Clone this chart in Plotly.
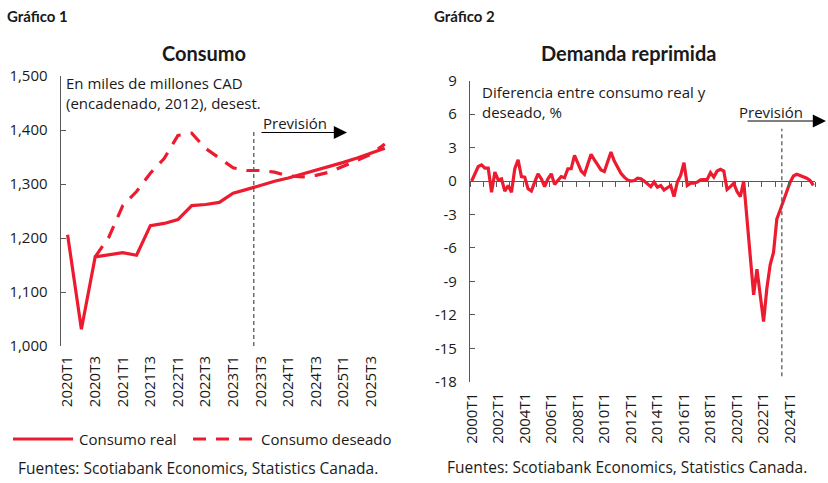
import numpy as np
import plotly.graph_objects as go

# Gráfico 1: consumo, miles de millones CAD (encadenado 2012), desest.
quarters_1 = [f"{y}T{q}" for y in range(2020, 2026) for q in range(1, 5)]
consumo_real = [1206, 1031, 1165, 1169, 1173, 1168, 1223, 1227, 1234, 1260, 1262, 1266,
                1283, 1290, 1298, 1305, 1311, 1318, 1325, 1332, 1340, 1348, 1357, 1366]
consumo_deseado = [None, None, 1165, 1202, 1260, 1286, 1320, 1347, 1390, 1394, 1366, 1348,
                   1330, 1325, 1325, 1322, 1315, 1313, 1316, 1322, 1333, 1343, 1355, 1374]
labels_1 = quarters_1[::2]

# Gráfico 2: diferencia entre consumo real y deseado, %
quarters_2 = [f"{y}T{q}" for y in range(2000, 2026) for q in range(1, 5)]
demanda_reprimida = [
    0.0, 0.7, 1.3, 1.45, 1.15, 1.15, -1.0, 0.8,       # 2000-2001
    0.1, 0.2, -0.9, -0.4, -1.0, 1.1, 1.9, 0.4,        # 2002-2003
    0.35, -0.7, -0.9, -0.1, 0.65, 0.2, -0.5, 0.2,     # 2004-2005
    0.65, -0.3, 0.1, 0.4, 0.3, 1.1, 1.1, 2.3,         # 2006-2007
    1.6, 0.9, 0.6, 1.5, 2.4, 1.9, 1.4, 1.0,           # 2008-2009
    0.85, 1.7, 2.6, 1.8, 1.2, 0.7, 0.35, 0.1,         # 2010-2011
    0.0, 0.05, 0.25, 0.2, 0.0, -0.3, -0.5, -0.1,      # 2012-2013
    -0.55, -0.4, -0.8, -0.6, -0.4, -1.4, -0.1, 0.5,   # 2014-2015
    1.65, -0.4, -0.2, -0.2, -0.1, 0.1, 0.15, 0.15,    # 2016-2017
    0.75, 0.35, 0.9, 1.05, 0.9, -0.75, -0.5, -0.2,    # 2018-2019
    -0.95, -1.4, 0.0, -3.5, -6.9, -10.2, -7.9, -10.3, # 2020-2021
    -12.6, -9.6, -7.5, -6.4, -3.4, -2.6, -1.8, -0.9,  # 2022-2023
    -0.1, 0.45, 0.6, 0.5, 0.4, 0.25, 0.05, -0.4,      # 2024-2025
]
labels_2 = quarters_2[::8]
forecast_start = "2023T3"

W, H = 828, 483
RED = "#ED1B2F"
AXIS = "#595959"
TXT = "#1a1a1a"
FONT = "Open Sans"
BOLD = "Lato"
DASH = "13px,10px"


def px(x):
    return x / W


def py(y):
    return 1 - y / H


dom1_x = [px(60.7), px(391.7)]
dom1_y = [py(346), py(76)]
dom2_x = [px(470), px(815)]
dom2_y = [py(381.7), py(80.7)]
y1_range = [1000, 1500]
y2_range = [-18, 9]

fig = go.Figure()

fig.add_trace(go.Scatter(
    x=quarters_1, y=consumo_real, mode="lines", name="Consumo real",
    line=dict(color=RED, width=3.2), xaxis="x", yaxis="y",
))
fig.add_trace(go.Scatter(
    x=quarters_1, y=consumo_deseado, mode="lines", name="Consumo deseado",
    line=dict(color=RED, width=3.2, dash=DASH), xaxis="x", yaxis="y",
))
fig.add_trace(go.Scatter(
    x=quarters_2, y=demanda_reprimida, mode="lines", name="Demanda reprimida",
    line=dict(color=RED, width=3.2), xaxis="x2", yaxis="y2",
))
# empty helper trace: makes plotly build the subplot whose bottom edge is the zero line
fig.add_trace(go.Scatter(x=[None], y=[None], xaxis="x4", yaxis="y3", hoverinfo="skip"))

n1, n2 = len(quarters_1), len(quarters_2)
# position of the zero line of chart 2 in paper coords
zero_pos = dom2_y[0] + (0 - y2_range[0]) / (y2_range[1] - y2_range[0]) * (dom2_y[1] - dom2_y[0])

tick_font = dict(family=FONT, size=15, color=TXT)
common = dict(showgrid=False, zeroline=False, automargin=False)

fig.update_layout(
    width=W, height=H,
    margin=dict(l=0, r=0, t=0, b=0, autoexpand=False),
    paper_bgcolor="white", plot_bgcolor="rgba(0,0,0,0)",
    font=dict(family=FONT, size=14, color=TXT),
    showlegend=False,
    xaxis=dict(
        domain=dom1_x, anchor="y", type="category", range=[-0.5, n1 - 0.5],
        tickvals=labels_1, ticktext=labels_1, tickangle=-90, ticks="",
        showline=False, tickfont=tick_font, ticklabelstandoff=6, **common,
    ),
    yaxis=dict(
        domain=dom1_y, anchor="x", range=y1_range, dtick=100, tickformat=",",
        ticks="inside", ticklen=5, tickcolor=AXIS, showline=True, linecolor=AXIS,
        linewidth=1.2, tickfont=tick_font, ticklabelstandoff=9, **common,
    ),
    xaxis3=dict(
        domain=dom1_x, anchor="y", overlaying="x", range=[-0.5, n1 - 0.5],
        tickvals=np.arange(-0.5, n1, 1), ticks="outside", ticklen=5, tickcolor=AXIS,
        showline=True, linecolor=AXIS, linewidth=1.2, showticklabels=False, **common,
    ),
    xaxis2=dict(
        domain=dom2_x, anchor="y2", type="category", range=[-0.5, n2 - 0.5],
        tickvals=labels_2, ticktext=labels_2, tickangle=-90, ticks="",
        showline=False, tickfont=tick_font, ticklabelstandoff=7, **common,
    ),
    yaxis2=dict(
        domain=dom2_y, anchor="x2", range=y2_range,
        tickvals=list(range(-18, 10, 3)), ticktext=[str(v) for v in range(-18, 10, 3)],
        ticks="inside", ticklen=5, tickcolor=AXIS, showline=True, linecolor=AXIS,
        linewidth=1.2, tickfont=tick_font, ticklabelstandoff=9,
        showgrid=False, automargin=False,
        zeroline=True, zerolinecolor=AXIS, zerolinewidth=1.2,
    ),
    xaxis4=dict(
        domain=dom2_x, anchor="y3", range=[-0.5, n2 - 0.5],
        tickvals=np.arange(-0.5, n2, 4), ticks="outside", ticklen=5, tickcolor=AXIS,
        showline=True, linecolor=AXIS, linewidth=1.2, showticklabels=False, **common,
    ),
    yaxis3=dict(domain=[zero_pos, dom2_y[1]], anchor="x4", range=[0, 1], visible=False),
)

fc1 = quarters_1.index(forecast_start) - 0.5
fc2 = quarters_2.index(forecast_start) - 0.5
fig.add_shape(type="line", xref="x", yref="y", x0=fc1, x1=fc1, y0=1000, y1=1400,
              line=dict(color=AXIS, width=1.3, dash="4px,3px"))
fig.add_shape(type="line", xref="x2", yref="y2", x0=fc2, x1=fc2, y0=-17.5, y1=4.7,
              line=dict(color=AXIS, width=1.3, dash="4px,3px"))

# legend drawn by hand so the line keys are as long as in the original
legend_y = py(439)
for (x0, x1, dash) in [(13, 73, None), (193, 256, DASH)]:
    fig.add_shape(type="line", xref="paper", yref="paper", x0=px(x0), x1=px(x1),
                  y0=legend_y, y1=legend_y, line=dict(color=RED, width=3.2, dash=dash))

annotations = [
    dict(text="<b>Gráfico 1</b>", x=px(5), y=py(16), font=dict(family=BOLD, size=15)),
    dict(text="<b>Gráfico 2</b>", x=px(432), y=py(16), font=dict(family=BOLD, size=15)),
    dict(text="<b>Consumo</b>", x=px(204), y=py(53), xanchor="center",
         font=dict(family=BOLD, size=20)),
    dict(text="<b>Demanda reprimida</b>", x=px(628), y=py(53), xanchor="center",
         font=dict(family=BOLD, size=20)),
    dict(text="En miles de millones CAD<br>(encadenado, 2012), desest.",
         x=px(64), y=py(93), font=dict(size=15)),
    dict(text="Diferencia entre consumo real y<br>deseado, %",
         x=px(480), y=py(102), font=dict(size=15)),
    dict(text="Previsión", x=px(261), y=py(123), font=dict(size=15)),
    dict(text="Previsión", x=px(737), y=py(112), font=dict(size=15)),
    dict(text=fig.data[0].name, x=px(77), y=legend_y, font=dict(size=15)),
    dict(text=fig.data[1].name, x=px(259), y=legend_y, font=dict(size=15)),
    dict(text="Fuentes: Scotiabank Economics, Statistics Canada.", x=px(16), y=py(468),
         font=dict(size=15.5)),
    dict(text="Fuentes: Scotiabank Economics, Statistics Canada.", x=px(445), y=py(467),
         font=dict(size=15.5)),
]
for a in annotations:
    a.setdefault("xanchor", "left")
    fig.add_annotation(xref="paper", yref="paper", yanchor="middle", showarrow=False,
                       align="left", **a)

# forecast arrows
for x_tail, x_head, y in [(260, 347, 132.5), (746, 826, 121)]:
    fig.add_annotation(xref="paper", yref="paper", x=px(x_head), y=py(y),
                       axref="pixel", ayref="pixel", ax=-(x_head - x_tail), ay=0,
                       text="", showarrow=True, arrowhead=2, arrowsize=2.2,
                       arrowwidth=1.2, arrowcolor="black")

# the page's default body margin would push the 828x483 figure off the window
fig.write_html("out.html", config={"displayModeBar": False},
               post_script="document.body.style.margin = '0';")
